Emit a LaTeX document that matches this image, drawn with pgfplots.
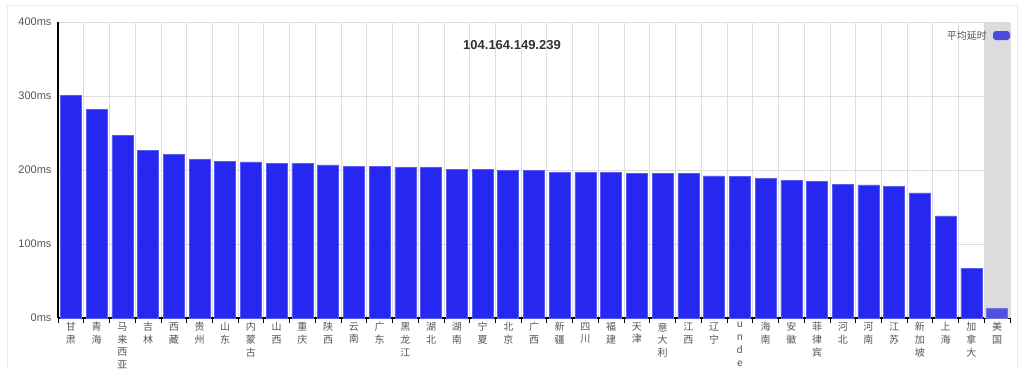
\documentclass[border=0pt]{standalone}
\usepackage{fontspec}
\setmainfont{Liberation Sans}
\newfontfamily\cjk{Noto Sans CJK SC}
\usepackage{pgfplots}
\pgfplotsset{compat=1.18}
\definecolor{barblue}{HTML}{2727F2}
\definecolor{baredge}{HTML}{5A5AF5}
\definecolor{hoverblue}{HTML}{5050DC}
\definecolor{legendblue}{HTML}{4A4ADE}
\definecolor{hl}{HTML}{DCDCDC}
\definecolor{gridc}{HTML}{DDDDDD}
\definecolor{labc}{HTML}{555555}
\begin{document}
\begin{tikzpicture}[x=1pt,y=1pt]
\useasboundingbox (0,0) rectangle (1024,368);
\fill[white] (0,0) rectangle (1024,368);
\draw[gray!15, line width=1pt] (7,-5) -- (7,363) -- (1017,363) -- (1017,-5);
\begin{axis}[
  at={(58pt,50pt)}, anchor=south west, scale only axis,
  width=952pt, height=296pt,
  xmin=-0.5, xmax=36.5, ymin=0, ymax=400,
  axis x line=bottom, axis y line=left,
  x axis line style={-, black, line width=1.2pt},
  y axis line style={-, black, line width=1.6pt},
  xtick={0,...,36},
  minor xtick={-0.5,0.5,...,36.5},
  xminorgrids=true, ymajorgrids=true,
  grid style={gridc, line width=0.8pt},
  minor grid style={gridc, line width=0.8pt},
  major tick length=0pt, minor tick length=5pt,
  tick align=outside,
  tick style={black, line width=0.8pt},
  ytick={0,100,200,300,400},
  yticklabels={0ms,100ms,200ms,300ms,400ms},
  yticklabel style={font=\fontsize{11}{13}\selectfont, text=labc, xshift=-3pt},
  xticklabel style={font=\cjk\fontsize{10}{12.8}\selectfont, text=labc, align=center, anchor=north, yshift=-1pt},
  xticklabels={{甘\\肃},{青\\海},{马\\来\\西\\亚},{吉\\林},{西\\藏},{贵\\州},{山\\东},{内\\蒙\\古},{山\\西},{重\\庆},{陕\\西},{云\\南},{广\\东},{黑\\龙\\江},{湖\\北},{湖\\南},{宁\\夏},{北\\京},{广\\西},{新\\疆},{四\\川},{福\\建},{天\\津},{意\\大\\利},{江\\西},{辽\\宁},{u\\n\\d\\e\\f\\i\\n\\e\\d},{海\\南},{安\\徽},{菲\\律\\宾},{河\\北},{河\\南},{江\\苏},{新\\加\\坡},{上\\海},{加\\拿\\大},{美\\国}},
  every axis plot/.append style={ybar, bar width=21pt, bar shift=0pt},
  clip=false,
]
\fill[hl] (axis cs:35.5,0) rectangle (axis cs:36.5,400);
\addplot[fill=barblue, draw=baredge, line width=0.6pt] coordinates {
(0,301) (1,282) (2,247) (3,226) (4,221) (5,214) (6,212) (7,211) (8,209) (9,209)
(10,207) (11,205) (12,205) (13,203) (14,203) (15,201) (16,201) (17,200) (18,200) (19,197)
(20,197) (21,197) (22,195) (23,195) (24,195) (25,192) (26,191) (27,189) (28,186) (29,185)
(30,181) (31,180) (32,178) (33,169) (34,138) (35,67)
};
\addplot[fill=hoverblue, draw=hoverblue!80!white, line width=0.6pt] coordinates {(36,13)};
\end{axis}
\node[font=\bfseries\fontsize{13}{15}\selectfont, text=black!80] at (512,323) {104.164.149.239};
\node[anchor=east, font=\cjk\fontsize{10}{12}\selectfont, text=labc, inner sep=0pt] at (987,332.5) {平均延时};
\fill[legendblue, rounded corners=3pt] (993,328) rectangle (1010,337);
\end{tikzpicture}
\end{document}
